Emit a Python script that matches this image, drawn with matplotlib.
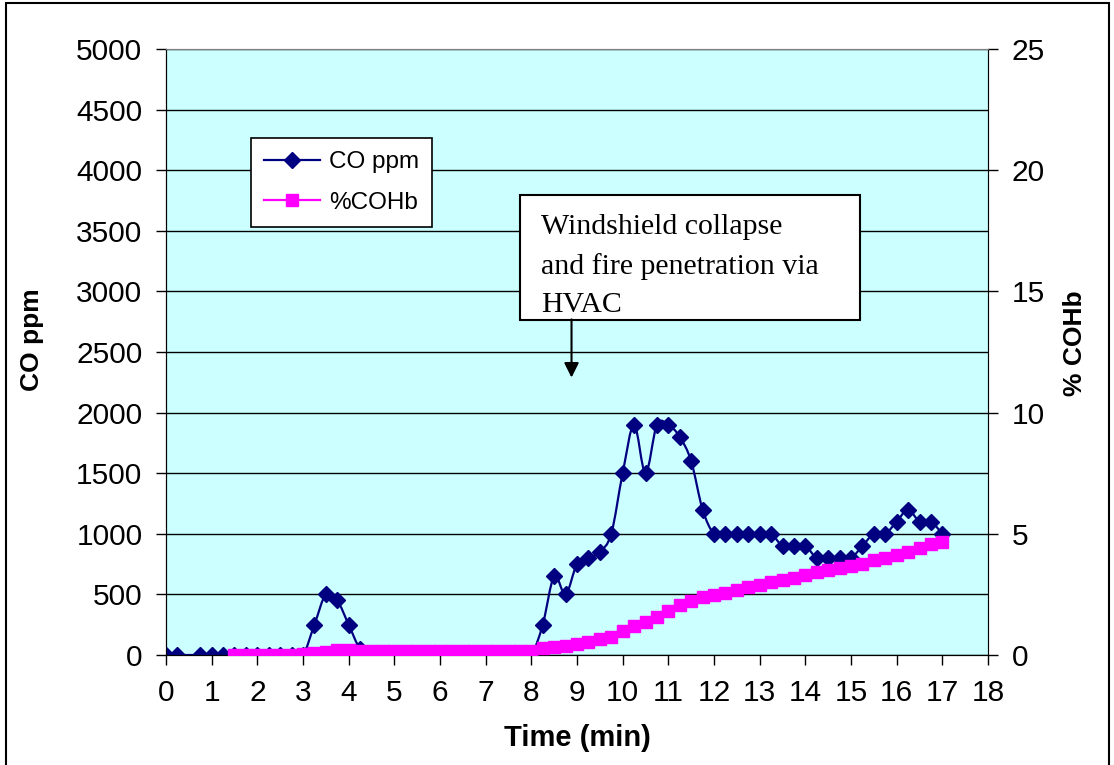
import matplotlib
matplotlib.use("Agg")
import matplotlib.pyplot as plt
import numpy as np
from matplotlib.path import Path
from matplotlib.patches import PathPatch, Rectangle
from matplotlib.lines import Line2D

# data (time in minutes)
co_time = [0, 0.25] + list(np.arange(0.75, 17.01, 0.25))
co_ppm = [0, 0, 0, 0, 0, 0, 0, 0, 0, 0, 0, 0,
          250, 500, 450, 250, 50,
          0, 0, 0, 0, 0, 0, 0, 0, 0, 0, 0, 0, 0, 0, 0,
          250, 650, 500, 750, 800, 850, 1000, 1500, 1900, 1500, 1900, 1900, 1800, 1600, 1200,
          1000, 1000, 1000, 1000, 1000, 1000,
          900, 900, 900,
          800, 800, 800, 800,
          900, 1000, 1000, 1100, 1200, 1100, 1100, 1000]

cohb_time = list(np.arange(1.5, 17.01, 0.25))
cohb_pct = [0.02, 0.02, 0.02, 0.02, 0.02, 0.02,
            0.05, 0.07, 0.14, 0.2, 0.2,
            0.18, 0.18, 0.18, 0.18, 0.18, 0.18, 0.18, 0.18,
            0.18, 0.18, 0.18, 0.18, 0.18, 0.18, 0.18, 0.18,
            0.28, 0.32, 0.37, 0.44, 0.52, 0.66, 0.76, 0.98, 1.2, 1.38, 1.58, 1.8,
            2.05, 2.22, 2.38, 2.48, 2.56, 2.7, 2.8, 2.9, 3.03, 3.1, 3.18, 3.3,
            3.43, 3.5, 3.6, 3.68, 3.77, 3.92, 4.0, 4.12, 4.23, 4.4, 4.58, 4.65]

x_ticks = list(range(0, 19))
co_ticks = list(range(0, 5001, 500))
cohb_ticks = [0, 5, 10, 15, 20, 25]

NAVY = "#000080"
PINK = "#FF00FF"


def smooth_path(x, y):
    # excel-like smoothed line (catmull-rom as cubic bezier)
    p = np.column_stack([x, y]).astype(float)
    n = len(p)
    verts = [p[0]]
    codes = [Path.MOVETO]
    for i in range(n - 1):
        p0 = p[max(i - 1, 0)]
        p1 = p[i]
        p2 = p[i + 1]
        p3 = p[min(i + 2, n - 1)]
        verts += [p1 + (p2 - p0) / 6, p2 - (p3 - p1) / 6, p2]
        codes += [Path.CURVE4] * 3
    return Path(verts, codes)


plt.rcParams['font.family'] = ['Liberation Sans', 'DejaVu Sans']

fig = plt.figure(figsize=(11.14, 7.65), dpi=100)
ax = fig.add_axes([166 / 1114, 1 - 655 / 765, (988 - 166) / 1114, (655 - 49) / 765])
ax.set_facecolor("#CCFFFF")

# figure frame
fig.patches.append(Rectangle((6 / 1114, -0.05), 1103 / 1114, 1.05 - 3 / 765,
                             transform=fig.transFigure, fill=False,
                             edgecolor="black", linewidth=1.5))

ax.set_xlim(0, 18)
ax.set_ylim(0, 5000)
ax.set_xticks(x_ticks)
ax.set_yticks(co_ticks)
ax.yaxis.grid(True, color="black", linewidth=1)
ax.set_axisbelow(True)
ax.tick_params(axis="both", direction="out", length=7, width=1, labelsize=21.5)
ax.tick_params(axis="x", pad=10)
ax.tick_params(axis="y", pad=10)
for s in ["top", "right"]:
    ax.spines[s].set_color("#808080")

ax.add_patch(PathPatch(smooth_path(co_time, co_ppm), facecolor="none",
                       edgecolor=NAVY, linewidth=1.6, zorder=3))
ax.plot(co_time, co_ppm, linestyle="none", marker="D", markersize=8.5,
        color=NAVY, zorder=4)

ax2 = ax.twinx()
ax2.set_ylim(0, 25)
ax2.set_yticks(cohb_ticks)
ax2.tick_params(axis="y", direction="out", length=7, width=1, labelsize=21.5, pad=10)
ax2.spines["top"].set_color("#808080")
ax2.add_patch(PathPatch(smooth_path(cohb_time, cohb_pct), facecolor="none",
                        edgecolor=PINK, linewidth=1.6, zorder=3))
ax2.plot(cohb_time, cohb_pct, linestyle="none", marker="s", markersize=8.5,
         color=PINK, zorder=4)

# labels
fig.text(577 / 1114, 1 - 738 / 765, "Time (min)", ha="center", va="center",
         fontsize=21, fontweight="bold")
fig.text(32 / 1114, 1 - 340 / 765, "CO ppm", ha="center", va="center",
         rotation=90, fontsize=19, fontweight="bold")
fig.text(1075 / 1114, 1 - 343 / 765, "% COHb", ha="center", va="center",
         rotation=90, fontsize=19, fontweight="bold")

# annotation box with arrow
ax2.add_patch(Rectangle((520 / 1114, 1 - 320 / 765), 340 / 1114, 125 / 765,
                        transform=fig.transFigure, facecolor="white",
                        edgecolor="black", linewidth=1.5, zorder=8))
ax2.annotate("", xy=(8.88, 2289 / 200), xytext=(8.88, 2769 / 200),
             arrowprops=dict(arrowstyle="-|>", color="black", lw=1.5,
                             mutation_scale=22, shrinkA=0, shrinkB=0),
             zorder=9)
ax2.text(541 / 1114, 1 - 214 / 765,
         "Windshield collapse\nand fire penetration via\nHVAC",
         transform=fig.transFigure, ha="left", va="top", fontsize=21.5,
         family=["Liberation Serif", "DejaVu Serif"], linespacing=1.6, zorder=10)

handles = [Line2D([], [], color=NAVY, marker="D", markersize=8, linewidth=1.6),
           Line2D([], [], color=PINK, marker="s", markersize=8, linewidth=1.6)]
leg = ax2.legend(handles, ["CO ppm", "%COHb"], loc="upper left",
                 bbox_to_anchor=(251 / 1114, 1 - 138 / 765),
                 bbox_transform=fig.transFigure, fontsize=17.5, fancybox=False,
                 framealpha=1, edgecolor="black", handlelength=2.3,
                 borderpad=0.55, labelspacing=0.75, handletextpad=0.35,
                 borderaxespad=0)
leg.get_frame().set_linewidth(1.2)
leg.set_zorder(10)

fig.savefig("out.png", dpi=100)
